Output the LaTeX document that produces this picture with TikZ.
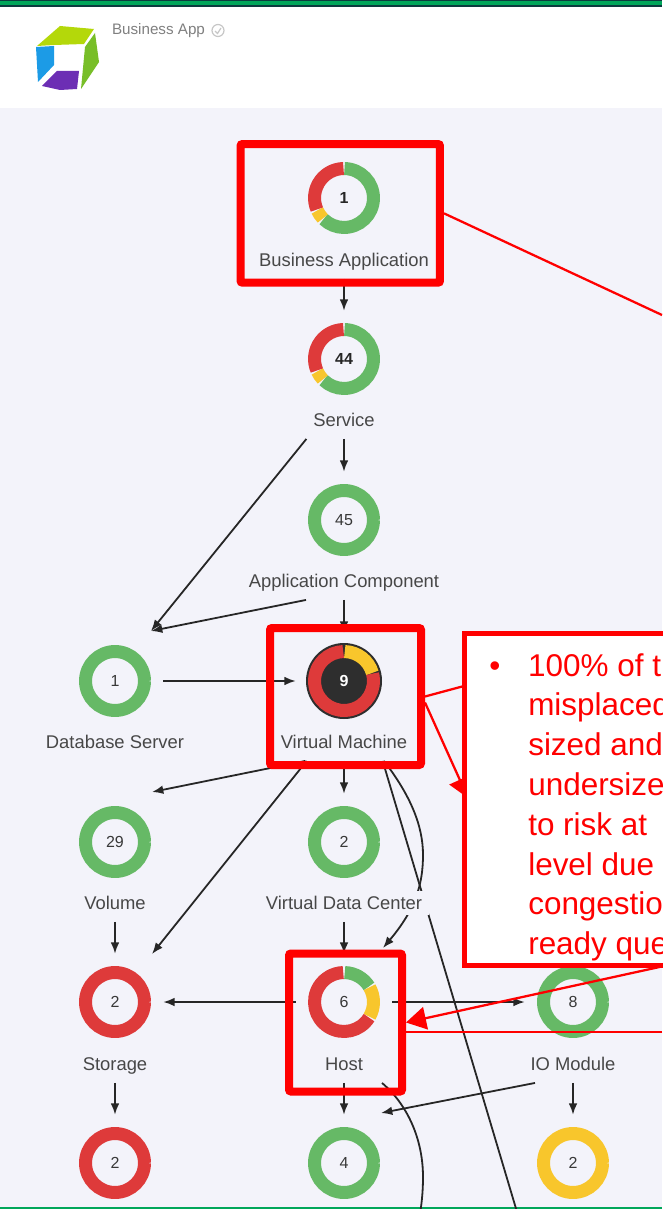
\documentclass[tikz,border=0pt]{standalone}
\usepackage{fontspec}
\setmainfont{Liberation Sans}
\usetikzlibrary{arrows.meta,backgrounds,shadows}

\definecolor{pagebg}{HTML}{F3F3FA}
\definecolor{ringgreen}{HTML}{66B966}
\definecolor{ringred}{HTML}{DE3A3A}
\definecolor{ringyellow}{HTML}{F8C62C}
\definecolor{ringdark}{HTML}{2E2E2E}
\definecolor{barteal}{HTML}{00A65A}
\definecolor{bardark}{HTML}{0B3B3F}
\definecolor{logolime}{HTML}{B4D80A}
\definecolor{logogreen}{HTML}{78BE28}
\definecolor{logoblue}{HTML}{1C9BE6}
\definecolor{logoviolet}{HTML}{6C2EB4}

\newcommand{\ringarc}[4]{\draw[#4,line width=9.75pt] (#1) ++(#2:22.1pt) arc[start angle=#2,end angle=#3,radius=22.1pt];}

\tikzset{
    flow/.style={-{Latex[length=8.5pt,width=6.5pt]},line width=1.35pt,black!85},
    ringnode/.style={circle,minimum size=72pt,inner sep=0pt,font=\fontsize{12}{12}\selectfont,text=black!78},
    tag/.style={inner xsep=5pt,inner ysep=2pt,outer ysep=5.2pt,text height=12pt,text depth=2pt,font=\fontsize{13.8}{14}\selectfont,text=black!72},
    redbox/.style={draw=red,line width=6pt,rounded corners=1.5pt},
    redline/.style={draw=red,line width=1.7pt},
    redarrow/.style={redline,-{Triangle[length=15pt,width=17pt]}}
}

\begin{document}
\begin{tikzpicture}[x=0.75pt,y=-0.75pt]
    \useasboundingbox (0,0) rectangle (662,1209);

    \node[ringnode,font=\fontsize{12}{12}\selectfont\bfseries,text=black!85] (bapp) at (344,198) {1};
    \node[tag] (bapplabel) at (344,260) {Business Application};
    \node[ringnode,font=\fontsize{12}{12}\selectfont\bfseries,text=black!85] (service) at (344,359) {44};
    \node[tag] (servicelabel) at (344,420) {Service};
    \node[ringnode] (appcomp) at (344,520) {45};
    \node[tag] (appcomplabel) at (344,581) {Application Component};
    \node[ringnode] (dbserver) at (115,681) {1};
    \node[tag] (dbserverlabel) at (115,742) {Database Server};
    \node[ringnode] (vm) at (344,681) {};
    \node[tag] (vmlabel) at (344,742) {Virtual Machine};
    \node[ringnode] (volume) at (115,842) {29};
    \node[tag] (volumelabel) at (115,903) {Volume};
    \node[ringnode] (vdc) at (344,842) {2};
    \node[tag,fill=pagebg] (vdclabel) at (344,903) {Virtual Data Center};
    \node[ringnode] (storage) at (115,1002) {2};
    \node[tag] (storagelabel) at (115,1064) {Storage};
    \node[ringnode] (host) at (344,1002) {6};
    \node[tag] (hostlabel) at (344,1064) {Host};
    \node[ringnode] (iomodule) at (573,1002) {8};
    \node[tag] (iomodulelabel) at (573,1064) {IO Module};
    \node[ringnode] (lowstorage) at (115,1163) {2};
    \node[ringnode] (lowhost) at (344,1163) {4};
    \node[ringnode] (lowio) at (573,1163) {2};

    \coordinate (dbin) at (151,631);
    \coordinate (volumein) at (152,792);
    \coordinate (storagein) at (152,954);
    \coordinate (hostin) at (383,948);
    \coordinate (lowin) at (381,1113);
    \coordinate (vmexit) at (520,1222);
    \coordinate (hostexit) at (419,1222);
    \coordinate (baexit) at (662,315);
    \coordinate (calloutfoot) at (680,962.5);
    \coordinate (calloutin) at (468,798);
    \coordinate (farright) at (662,1032);

    \begin{scope}[on background layer]
        \fill[pagebg] (0,0) rectangle (662,1209);
        \fill[white] (0,0) rectangle (662,108);
        \fill[bardark] (0,0) rectangle (662,7.5);
        \fill[barteal] (0,1) rectangle (662,5.5);
        \fill[barteal] (0,1206.5) rectangle (662,1209);

        \draw[flow] (bapplabel) -- (service);
        \draw[flow] (servicelabel) -- (appcomp);
        \draw[flow] (servicelabel.south west) -- (dbin);
        \draw[flow] ([xshift=-28.5pt]appcomplabel.south) -- (dbin);
        \draw[flow] (appcomplabel) -- (vm);
        \draw[flow] (dbserver) -- (vm);
        \draw[flow] ([xshift=-29pt]vmlabel.south) -- (volumein);
        \draw[flow] ([xshift=-28pt]vmlabel.south) -- (storagein);
        \draw[flow] (vmlabel) -- (vdc);
        \draw[flow] ([xshift=29pt]vmlabel.south) -- (vmexit);
        \draw[flow] ([xshift=30pt]vmlabel.south) .. controls (410,795) and (423,825) .. (423,855) .. controls (423,885) and (415,910) .. (hostin);
        \draw[flow] (volumelabel) -- (storage);
        \draw[flow] (vdclabel) -- (host);
        \draw[flow] (host) -- (storage);
        \draw[flow] (host) -- (iomodule);
        \draw[flow] (storagelabel) -- (lowstorage);
        \draw[flow] (hostlabel) -- (lowhost);
        \draw[flow] ([xshift=-28.5pt]iomodulelabel.south) -- (lowin);
        \draw[flow] (iomodulelabel) -- (lowio);
        \draw[flow] ([xshift=28.5pt]hostlabel.south) .. controls (408,1105) and (423,1140) .. (423,1177) .. controls (423,1190) and (422,1200) .. (hostexit);
    \end{scope}

    \fill[logolime] (37,46) -- (60,26) -- (94,29) -- (84,44) -- (54,45) -- cycle;
    \fill[logogreen] (95,33) -- (99,62) -- (81,89) -- (85,47) -- cycle;
    \fill[logoblue] (36,47) -- (54,46) -- (54,65) -- (38,82) -- cycle;
    \fill[logoviolet] (42,86) -- (57,71) -- (79,71) -- (77,89) -- (60,90) -- cycle;
    \node[inner sep=0pt,font=\fontsize{11.4}{12}\selectfont,text=black!50] (apptitle) at (158.5,31) {Business App};
    \draw[black!22,line width=0.9pt] (218,30.5) circle[radius=6];
    \draw[black!22,line width=0.9pt] (215,31) -- (217.5,33.5) -- (221,28);

    \foreach \ringname in {appcomp,dbserver,volume,vdc,iomodule,lowhost} {
        \ringarc{\ringname}{0}{360}{ringgreen}
    }
    \foreach \ringname in {storage,lowstorage} {
        \ringarc{\ringname}{0}{360}{ringred}
    }
    \ringarc{lowio}{0}{360}{ringyellow}

    \foreach \ringname in {bapp,service} {
        \ringarc{\ringname}{89}{-134}{ringgreen}
        \ringarc{\ringname}{-136}{-155}{ringyellow}
        \ringarc{\ringname}{-157}{-269}{ringred}
    }

    \ringarc{host}{88.5}{32}{ringgreen}
    \ringarc{host}{30}{-30}{ringyellow}
    \ringarc{host}{-32}{-268.5}{ringred}

    \fill[ringdark] (vm) circle[radius=28.5pt];
    \ringarc{vm}{88.5}{16}{ringyellow}
    \ringarc{vm}{14.5}{-268.5}{ringred}
    \node[ringnode,font=\fontsize{12}{12}\selectfont\bfseries,text=white] (vmcount) at (vm) {9};

    \node[redbox,minimum width=149.6pt,minimum height=104pt] (bappbox) at (340.25,213.35) {};
    \node[redbox,minimum width=113.25pt,minimum height=102.75pt] (vmbox) at (345.5,696.5) {};
    \node[redbox,minimum width=84.75pt,minimum height=103.5pt] (hostbox) at (345.5,1022.5) {};

    \draw[redline] (bappbox.east) -- (baexit);
    \draw[redline] (vmbox.east) -- (464,686);
    \draw[redarrow] ([yshift=-4.5pt]vmbox.east) -- (calloutin);
    \draw[redarrow] (calloutfoot) -- (hostbox.east);
    \draw[redline,line width=1.4pt] (farright) -- (farright -| hostbox.east);

    \node[draw=red,fill=white,line width=3.75pt,anchor=north west,minimum width=180pt,minimum height=249pt,drop shadow={opacity=0.22,shadow xshift=1.5pt,shadow yshift=-2pt}] (callout) at (462,631) {};
    \node[anchor=north west,inner sep=0pt,align=left,text=red,font=\fontsize{23.6}{29.85}\selectfont] (callouttext) at (528,653) {\llap{\textbullet\hspace{21pt}}100\% of t\\misplaced\\sized and\\undersize\\to risk at\\level due\\congestio\\ready que};
\end{tikzpicture}
\end{document}
